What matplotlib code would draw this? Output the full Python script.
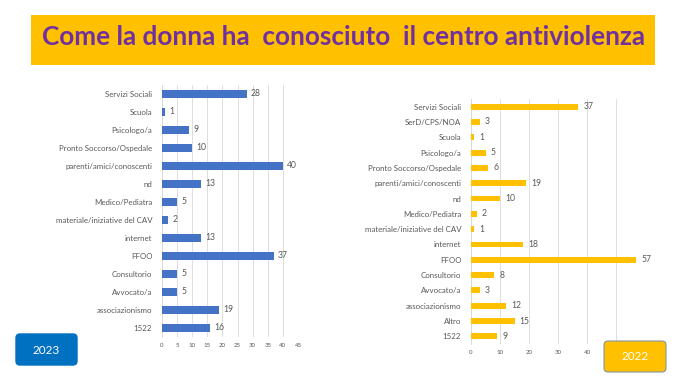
import matplotlib
matplotlib.use("Agg")
import matplotlib.pyplot as plt
from matplotlib.patches import FancyBboxPatch, Rectangle

plt.rcParams['font.family'] = ['Lato', 'DejaVu Sans']

cats_2023 = ["Servizi Sociali", "Scuola", "Psicologo/a", "Pronto Soccorso/Ospedale",
             "parenti/amici/conoscenti", "nd", "Medico/Pediatra",
             "materiale/iniziative del CAV", "internet", "FFOO", "Consultorio",
             "Avvocato/a", "associazionismo", "1522"]
vals_2023 = [28, 1, 9, 10, 40, 13, 5, 2, 13, 37, 5, 5, 19, 16]

cats_2022 = ["Servizi Sociali", "SerD/CPS/NOA", "Scuola", "Psicologo/a",
             "Pronto Soccorso/Ospedale", "parenti/amici/conoscenti", "nd",
             "Medico/Pediatra", "materiale/iniziative del CAV", "internet", "FFOO",
             "Consultorio", "Avvocato/a", "associazionismo", "Altro", "1522"]
vals_2022 = [37, 3, 1, 5, 6, 19, 10, 2, 1, 18, 57, 8, 3, 12, 15, 9]

ticks_2023 = list(range(0, 50, 5))
ticks_2022 = [0, 10, 20, 30, 40, 50, 60]
# 50 and 60 labels are hidden behind the "2022" badge in the reference
ticklabels_2022 = ["0", "10", "20", "30", "40", "", ""]

title = "Come la donna ha  conosciuto  il centro antiviolenza"
GREY = "#595959"

W, H = 680, 383
fig = plt.figure(figsize=(6.8, 3.83), dpi=100)
fig.patch.set_facecolor("white")

def px(x0, y0, x1, y1):
    return [x0 / W, 1 - y1 / H, (x1 - x0) / W, (y1 - y0) / H]

# title banner
bg = fig.add_axes([0, 0, 1, 1])
bg.set_xlim(0, W); bg.set_ylim(H, 0); bg.axis("off")
bg.add_patch(Rectangle((31, 15), 624, 50, facecolor="#FFC000", edgecolor="none"))
bg.text(344, 37, title, ha="center", va="center", fontsize=18.8, fontweight="bold",
        color="#7030A0")
bg.add_patch(FancyBboxPatch((16, 334), 61, 31, boxstyle="round,pad=0,rounding_size=4",
                            facecolor="#0070C0", edgecolor="#0070C0"))
bg.text(46.5, 350, "2023", ha="center", va="center", fontsize=8.5, color="white")

def draw(ax, cats, vals, ticks, labels, xmax, color, bh):
    n = len(cats)
    y = list(range(n))
    ax.barh(y, vals, height=bh, color=color, zorder=3)
    ax.set_ylim(n - 0.5, -0.5)
    ax.set_xlim(0, xmax)
    ax.set_yticks(y)
    ax.set_yticklabels(cats, fontsize=5.7, color=GREY)
    ax.set_xticks(ticks)
    ax.set_xticklabels(labels, fontsize=4.4, color=GREY)
    ax.tick_params(axis="both", length=0)
    ax.tick_params(axis="y", pad=7)
    ax.tick_params(axis="x", pad=4)
    ax.grid(axis="x", color="#D9D9D9", linewidth=0.6, zorder=0)
    for s in ["top", "right", "bottom"]:
        ax.spines[s].set_visible(False)
    ax.spines["left"].set_color("#D9D9D9")
    ax.spines["left"].set_linewidth(0.6)
    for yi, v in zip(y, vals):
        ax.text(v + xmax * 0.03, yi, str(v), va="center", ha="left", fontsize=6.2,
                color=GREY)
    ax.set_facecolor("none")

ax1 = fig.add_axes(px(162, 85, 298, 337))
draw(ax1, cats_2023, vals_2023, ticks_2023, [str(t) for t in ticks_2023], 45,
     "#4472C4", 0.4)

ax2 = fig.add_axes(px(471, 99, 645, 344))
draw(ax2, cats_2022, vals_2022, ticks_2022, ticklabels_2022, 60, "#FFC000", 0.38)

top = fig.add_axes([0, 0, 1, 1])
top.set_xlim(0, W); top.set_ylim(H, 0); top.axis("off")
top.add_patch(FancyBboxPatch((604, 341), 62, 31, boxstyle="round,pad=0,rounding_size=4",
                             facecolor="#FFC000", edgecolor="#8497A0", linewidth=0.8))
top.text(635, 356.5, "2022", ha="center", va="center", fontsize=8.5, color="white")

fig.savefig("out.png", dpi=100)
